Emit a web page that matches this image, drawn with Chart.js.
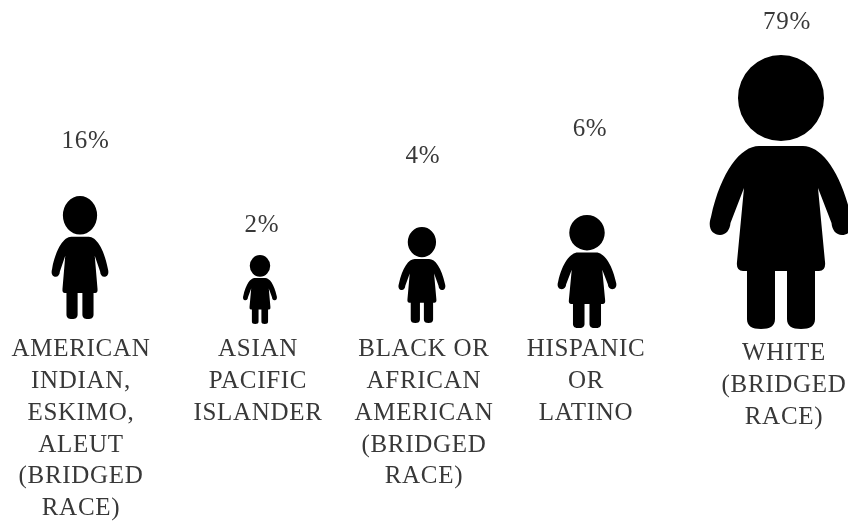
<!DOCTYPE html>
<html>
<head>
<meta charset="utf-8">
<script src="https://cdn.jsdelivr.net/npm/chart.js@4"></script>
<style>
html,body{margin:0;padding:0;background:#fff;overflow:hidden}
#wrap{position:relative;width:848px;height:524px}
</style>
</head>
<body>
<div id="wrap"><canvas id="c"></canvas></div>
<script>
// ----- values -----
const categories = [
  ["AMERICAN","INDIAN,","ESKIMO,","ALEUT","(BRIDGED","RACE)"],
  ["ASIAN","PACIFIC","ISLANDER"],
  ["BLACK OR","AFRICAN","AMERICAN","(BRIDGED","RACE)"],
  ["HISPANIC","OR","LATINO"],
  ["WHITE","(BRIDGED","RACE)"]
];
const shares = [16, 2, 4, 6, 79];
const columnAxis = [0, 1.027, 1.951, 2.893, 4];
const figureTop = [196, 255, 227, 215, 55];
const figureFoot = [319, 324, 323, 328, 329];
const shareLabelLevel = [141, 225, 156, 129, 22];

// ----- styling -----
const INK = '#383838';
const FONT = 'Liberation Serif';
const figureWidthRatio = [0.463, 0.493, 0.49, 0.522, 0.522];
const tickNudge = [[1,0],[-2,0],[2,0],[-1,0],[3,4]];
const shareNudgeX = [5.5, 2, 1, 3, 6];

function figurePath(){
  // silhouette in a 143 x 274 design box, origin at top centre
  const p = new Path2D();
  p.moveTo(0,91);
  p.lineTo(22,91);
  p.bezierCurveTo(40,91,60,116,70,162);
  p.bezierCurveTo(74,174,68,180,61,180);
  p.bezierCurveTo(55,180,51,175,50.5,168);
  p.lineTo(37,133);
  p.lineTo(44,207);
  p.quadraticCurveTo(45,216,38,216);
  p.lineTo(34,216);
  p.lineTo(34,264);
  p.bezierCurveTo(34,271,29,274,20,274);
  p.bezierCurveTo(11,274,6,271,6,264);
  p.lineTo(6,216);
  p.lineTo(-6,216);
  p.lineTo(-6,264);
  p.bezierCurveTo(-6,271,-11,274,-20,274);
  p.bezierCurveTo(-29,274,-34,271,-34,264);
  p.lineTo(-34,216);
  p.lineTo(-38,216);
  p.quadraticCurveTo(-45,216,-44,207);
  p.lineTo(-37,133);
  p.lineTo(-50.5,168);
  p.bezierCurveTo(-51,175,-55,180,-61,180);
  p.bezierCurveTo(-68,180,-74,174,-70,162);
  p.bezierCurveTo(-60,116,-40,91,-22,91);
  p.closePath();
  p.moveTo(43,43);
  p.ellipse(0,43,43,43,0,0,Math.PI*2);
  return p;
}
const silhouette = figurePath();

const pictogram = {
  id:'pictogram',
  beforeDraw(chart){ chart.ctx.letterSpacing = '0.7px'; },
  afterLayout(chart){
    const items = chart.scales.x.getLabelItems(chart.chartArea);
    items.forEach((it,i)=>{
      it.options.translation[0] += tickNudge[i][0];
      it.options.translation[1] += tickNudge[i][1];
    });
  },
  afterDatasetsDraw(chart){
    const ctx = chart.ctx;
    chart.getDatasetMeta(0).data.forEach((bar,i)=>{
      const top = Math.min(bar.y,bar.base), foot = Math.max(bar.y,bar.base);
      const h = foot-top, w = h*figureWidthRatio[i];
      ctx.save();
      ctx.translate(bar.x,top);
      ctx.scale(w/143,h/274);
      ctx.fillStyle='#000';
      ctx.fill(silhouette);
      ctx.restore();
    });
    ctx.save();
    ctx.font = '25px "'+FONT+'"';
    ctx.fillStyle = INK;
    ctx.textAlign='center';
    ctx.textBaseline='middle';
    chart.getDatasetMeta(1).data.forEach((pt,i)=>{
      ctx.fillText(shares[i]+'%',pt.x+shareNudgeX[i],pt.y);
    });
    ctx.restore();
  }
};

new Chart(document.getElementById('c'),{
  type:'bar',
  data:{
    datasets:[
      {
        label:'Figures',
        data:columnAxis.map((x,i)=>({x,y:[figureFoot[i],figureTop[i]]})),
        backgroundColor:'transparent',
        borderWidth:0
      },
      {
        type:'line',
        label:'Share',
        data:columnAxis.map((x,i)=>({x,y:shareLabelLevel[i]})),
        showLine:false,
        pointRadius:0
      }
    ]
  },
  options:{
    responsive:true,
    maintainAspectRatio:false,
    animation:false,
    events:[],
    layout:{padding:0},
    plugins:{legend:{display:false},tooltip:{enabled:false},title:{display:false}},
    scales:{
      x:{
        type:'linear',
        offset:false,
        min:-80/175.25,
        max:(848-80)/175.25,
        grid:{display:false,drawTicks:false,offset:false},
        border:{display:false},
        afterBuildTicks(s){ s.ticks = columnAxis.map(value=>({value})); },
        afterFit(s){ s.height = 190; s.paddingLeft = 0; s.paddingRight = 0; },
        ticks:{
          autoSkip:false,
          maxRotation:0,
          minRotation:0,
          padding:0,
          color:INK,
          font:{family:FONT,size:25,lineHeight:1.27},
          callback(v){ const i = columnAxis.indexOf(v); return categories[i]; }
        }
      },
      y:{
        display:false,
        reverse:true,
        min:0,
        max:334
      }
    }
  },
  plugins:[pictogram]
});
</script>
</body>
</html>
